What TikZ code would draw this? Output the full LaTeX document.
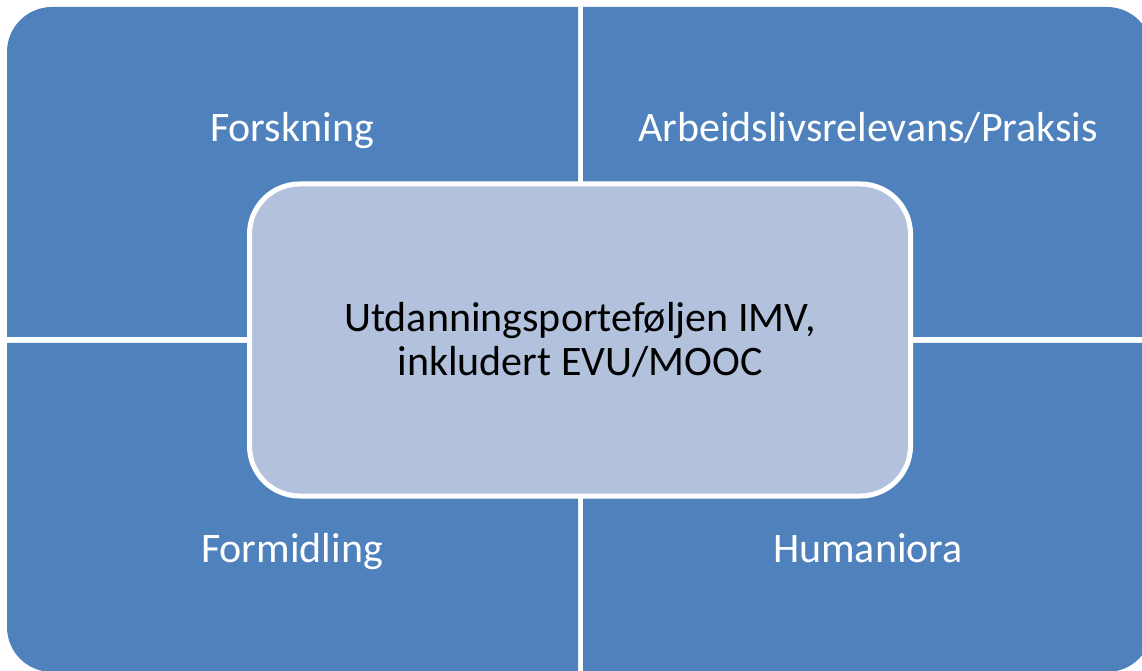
\documentclass[tikz,border=0pt]{standalone}
\usepackage{fontspec}
\setmainfont{Carlito}
\definecolor{quadblue}{RGB}{79,129,189}
\definecolor{coreblue}{RGB}{179,194,220}
\tikzset{
  quad/.style={fill=quadblue},
  quadtext/.style={text=white, font=\fontsize{42}{50}\selectfont, anchor=base},
  corebox/.style={draw=white, line width=5pt, fill=coreblue, rounded corners=50pt,
    minimum width=661pt, minimum height=312pt, inner sep=0pt,
    align=center, font=\fontsize{42}{44}\selectfont, text=black}
}
\begin{document}
\begin{tikzpicture}[x=1pt,y=1pt]
\useasboundingbox (0,0) rectangle (1142,670);
\clip (0,0) rectangle (1142,670);
% quadrants
\fill[quad] (578,333) -- (7,333) -- (7,618) arc[start angle=180,end angle=90,radius=45] -- (578,663) -- cycle;
\fill[quad] (583,333) -- (583,663) -- (1107,663) arc[start angle=90,end angle=0,radius=45] -- (1152,333) -- cycle;
\fill[quad] (578,327) -- (7,327) -- (7,43) arc[start angle=180,end angle=270,radius=45] -- (578,-2) -- cycle;
\fill[quad] (583,327) -- (1152,327) -- (1152,43) arc[start angle=0,end angle=-90,radius=45] -- (583,-2) -- cycle;
% quadrant labels
\node[quadtext] (forskning) at (292,528) {Forskning};
\node[quadtext] (arbeid) at (868,528) {Arbeidslivsrelevans/Praksis};
\node[quadtext] (formidling) at (292,108) {Formidling};
\node[quadtext] (humaniora) at (868,108) {Humaniora};
% centre
\node[corebox] (core) at (580,330) {Utdanningsporteføljen IMV,\\inkludert EVU/MOOC};
\end{tikzpicture}
\end{document}
